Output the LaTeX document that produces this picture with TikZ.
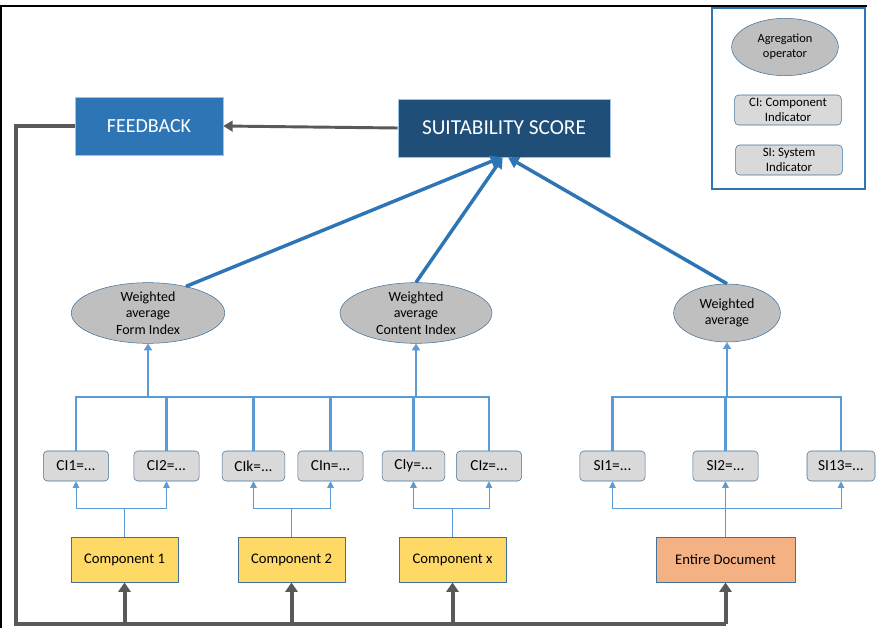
\documentclass[tikz,border=0pt]{standalone}
\usepackage{fontspec}
\setmainfont{Carlito}
\usepackage{tikz}
\usetikzlibrary{arrows.meta, shapes.geometric}

\definecolor{fbblue}{RGB}{46,117,182}
\definecolor{ssblue}{RGB}{31,78,121}
\definecolor{edgeblue}{RGB}{65,113,156}
\definecolor{lineblue}{RGB}{91,155,213}
\definecolor{loopgray}{RGB}{89,89,89}
\definecolor{compyellow}{RGB}{255,217,102}
\definecolor{docorange}{RGB}{244,177,131}
\definecolor{cigray}{RGB}{217,217,217}
\definecolor{opgray}{RGB}{191,191,191}

\tikzset{
  topbox/.style={draw=lineblue!60, fill=#1, text=white, minimum height=43.5pt, inner sep=0pt},
  compbox/.style={draw=edgeblue, fill=#1, minimum width=80pt, minimum height=34pt, font=\fontsize{11}{13}\selectfont},
  indbox/.style={draw=edgeblue, fill=cigray, rounded corners=3pt, minimum width=49pt, minimum height=22.5pt, inner sep=1pt, font=\fontsize{11.5}{13}\selectfont},
  opnode/.style={ellipse, draw=edgeblue, fill=opgray, inner sep=0pt, minimum height=43.5pt, align=center, font=\fontsize{10.5}{12.4}\selectfont},
  legtext/.style={align=center, font=\fontsize{9.6}{11.2}\selectfont},
  loopline/.style={draw=loopgray, line width=3pt},
  looparrow/.style={loopgray, line width=3pt, -{Triangle[length=7pt, width=9pt]}},
  thinarrow/.style={lineblue, line width=0.7pt, -{Triangle[length=5pt, width=5pt]}},
  busline/.style={lineblue, line width=2.2pt},
  busarrow/.style={lineblue, line width=2.2pt, -{Triangle[length=5pt, width=6pt]}},
  bigarrow/.style={fbblue, line width=2.6pt, -{Triangle[length=8pt, width=9pt]}},
}

\begin{document}
\begin{tikzpicture}[x=0.75pt, y=-0.75pt]
  \useasboundingbox (0,0) rectangle (876,628);
  \draw[black, line width=1.6pt] (1,628) -- (1,6) -- (867,6);

  \node[topbox=fbblue, minimum width=111pt, font=\fontsize{15}{17}\selectfont] (fb) at (149,126) {FEEDBACK};
  \node[topbox=ssblue, minimum width=159pt, font=\fontsize{16}{18}\selectfont] (ss) at (504,128) {SUITABILITY SCORE};
  \draw[loopgray, line width=2.2pt, -{Triangle[length=7pt, width=8pt]}] (ss.west) -- (fb.east);

  % legend
  \draw[fbblue, line width=1.5pt] (712,8) rectangle (865,189);
  \node[opnode, minimum width=80pt, minimum height=43pt, font=\fontsize{9.3}{11}\selectfont] (lgop) at (785,47) {Agregation\\operator};
  \node[indbox, minimum width=80pt, legtext] (lgci) at (788,110) {CI: Component\\Indicator};
  \node[indbox, minimum width=80pt, legtext] (lgsi) at (789,160) {SI: System\\Indicator};

  % aggregation operators
  \node[opnode, minimum width=115pt] (form) at (148,313) {Weighted\\average\\Form Index};
  \node[opnode, minimum width=114pt] (content) at (416,313) {Weighted\\average\\Content Index};
  \node[opnode, minimum width=80pt] (wavg) at (727,313) {Weighted\\average};

  \draw[bigarrow] (form.35) -- ([xshift=-2pt]ss.south);
  \draw[bigarrow] (content.north) -- ([xshift=-1pt]ss.south);
  \draw[bigarrow] (wavg.north) -- ([xshift=3pt]ss.south);

  % indicators
  \node[indbox] (ci1) at (76,466) {CI1=...};
  \node[indbox] (ci2) at (166.5,466) {CI2=...};
  \node[indbox, minimum width=47pt] (cik) at (253.5,466) {CIk=...};
  \node[indbox] (cin) at (330.5,466) {CIn=...};
  \node[indbox, minimum width=47pt] (ciy) at (413.5,466) {CIy=...};
  \node[indbox] (ciz) at (489,466) {CIz=...};
  \node[indbox] (si1) at (612.5,466) {SI1=...};
  \node[indbox] (si2) at (725.5,466) {SI2=...};
  \node[indbox, minimum width=51pt] (si13) at (841,466) {SI13=...};

  \coordinate (bus) at (0,397);
  \draw[busline] (ci1.north) |- (ciz.north |- bus) -- (ciz.north);
  \foreach \n in {ci2,cik,cin,ciy}
    \draw[busline] (\n.north) -- (\n.north |- bus);
  \draw[busline] (si1.north) |- (si13.north |- bus) -- (si13.north);
  \draw[busline] (si2.north) -- (si2.north |- bus);
  \draw[busarrow] (form.south |- bus) -- (form.south);
  \draw[busarrow] (content.south |- bus) -- (content.south);
  \draw[busarrow] (wavg.south |- bus) -- (wavg.south);

  % components
  \node[compbox=compyellow] (c1) at (124.5,559.5) {Component 1};
  \node[compbox=compyellow] (c2) at (291.5,559.5) {Component 2};
  \node[compbox=compyellow] (cx) at (452.5,559.5) {Component x};
  \node[compbox=docorange, minimum width=104pt] (doc) at (725.5,559.5) {Entire Document};

  \foreach \c/\a/\b in {c1/ci1/ci2, c2/cik/cin, cx/ciy/ciz} {
    \draw[lineblue, line width=0.7pt] (\c.north) -- ++(0,-28) coordinate (\c s);
    \draw[thinarrow] (\c s) -| (\a.south);
    \draw[thinarrow] (\c s) -| (\b.south);
  }
  \draw[lineblue, line width=0.7pt] (doc.north) -- ++(0,-28) coordinate (docs);
  \draw[thinarrow] (docs) -| (si1.south);
  \draw[thinarrow] (docs) -- (si2.south);
  \draw[thinarrow] (docs) -| (si13.south);

  % feedback loop
  \coordinate (lc) at (16,624);
  \draw[loopline] (fb.west) -| (lc) -- (lc -| doc.south);
  \foreach \c in {c1,c2,cx,doc}
    \draw[looparrow] (\c.south |- lc) -- (\c.south);
\end{tikzpicture}
\end{document}
